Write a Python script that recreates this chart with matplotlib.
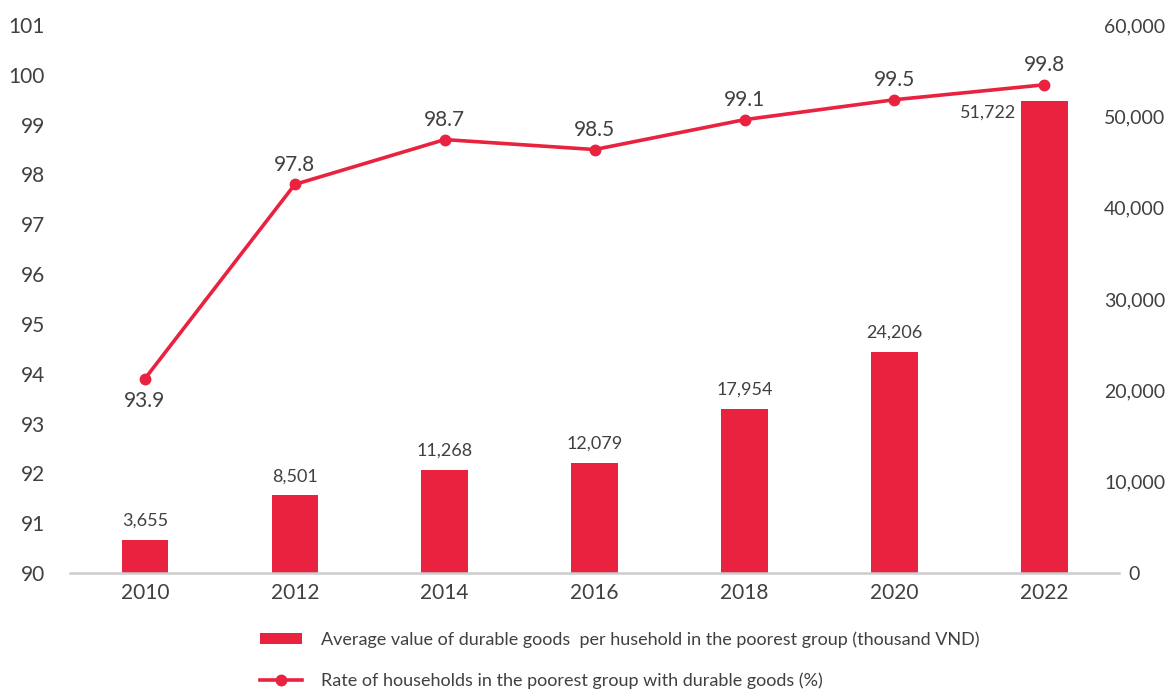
import numpy as np
import matplotlib.pyplot as plt
from matplotlib.lines import Line2D
from matplotlib.patches import Patch

years = ["2010", "2012", "2014", "2016", "2018", "2020", "2022"]
goods_value = [3655, 8501, 11268, 12079, 17954, 24206, 51722]
rate_pct = [93.9, 97.8, 98.7, 98.5, 99.1, 99.5, 99.8]

RED = "#E8223F"
GRAY = "#404040"
plt.rcParams["font.family"] = ["Lato", "DejaVu Sans"]

fig = plt.figure(figsize=(11.72, 6.89), dpi=100)
ax = fig.add_axes([0.0597, 0.1684, 0.8953, 0.7953])
ax2 = ax.twinx()

x = np.arange(len(years))

# bars on the right axis
ax2.bar(x, goods_value, width=0.31, color=RED, zorder=2)
ax2.set_ylim(0, 60000)
ax2.set_yticks(np.arange(0, 60001, 10000))
ax2.set_yticklabels([f"{v:,}" for v in range(0, 60001, 10000)])

for i, v in enumerate(goods_value):
    if i == len(goods_value) - 1:
        ax2.annotate(f"{v:,}", (x[i] - 0.16, v), xytext=(-3, -9),
                     textcoords="offset points", ha="right", va="center",
                     fontsize=13, color=GRAY)
    else:
        ax2.annotate(f"{v:,}", (x[i], v), xytext=(0, 8),
                     textcoords="offset points", ha="center", va="bottom",
                     fontsize=13, color=GRAY)

# line on the left axis, drawn on top
ax.set_zorder(ax2.get_zorder() + 1)
ax.patch.set_visible(False)
ax.plot(x, rate_pct, color=RED, lw=2.6, marker="o", ms=7.5, zorder=3)
ax.set_ylim(90, 101)
ax.set_yticks(range(90, 102))

for i, v in enumerate(rate_pct):
    if i == 0:
        ax.annotate(f"{v}", (x[i], v), xytext=(0, -9), textcoords="offset points",
                    ha="center", va="top", fontsize=15, color=GRAY)
    else:
        ax.annotate(f"{v}", (x[i], v), xytext=(0, 7), textcoords="offset points",
                    ha="center", va="bottom", fontsize=15, color=GRAY)

ax.set_xlim(-0.5, 6.5)
ax.set_xticks(x)
ax.set_xticklabels(years)

for a in (ax, ax2):
    for s in ("top", "left", "right", "bottom"):
        a.spines[s].set_visible(False)
    a.tick_params(length=0, labelsize=15, colors=GRAY)
ax.spines["bottom"].set_visible(True)
ax.spines["bottom"].set_color("#cccccc")
ax.spines["bottom"].set_linewidth(1.8)
ax.tick_params(axis="y", pad=18)
ax.tick_params(axis="x", pad=7)
ax2.tick_params(axis="y", pad=11, labelsize=14)
for lab in ax2.get_yticklabels():
    lab.set_horizontalalignment("center")

handles = [
    Patch(facecolor=RED, label="Average value of durable goods  per husehold in the poorest group (thousand VND)"),
    Line2D([0], [0], color=RED, lw=2.6, marker="o", ms=7.5,
           label="Rate of households in the poorest group with durable goods (%)"),
]
fig.legend(handles=handles, loc="upper left", bbox_to_anchor=(0.208, 0.107),
           frameon=False, fontsize=13, labelcolor=GRAY, handlelength=2.3,
           handleheight=0.6, handletextpad=1.1, labelspacing=1.35)

fig.savefig("out.png", dpi=100)
